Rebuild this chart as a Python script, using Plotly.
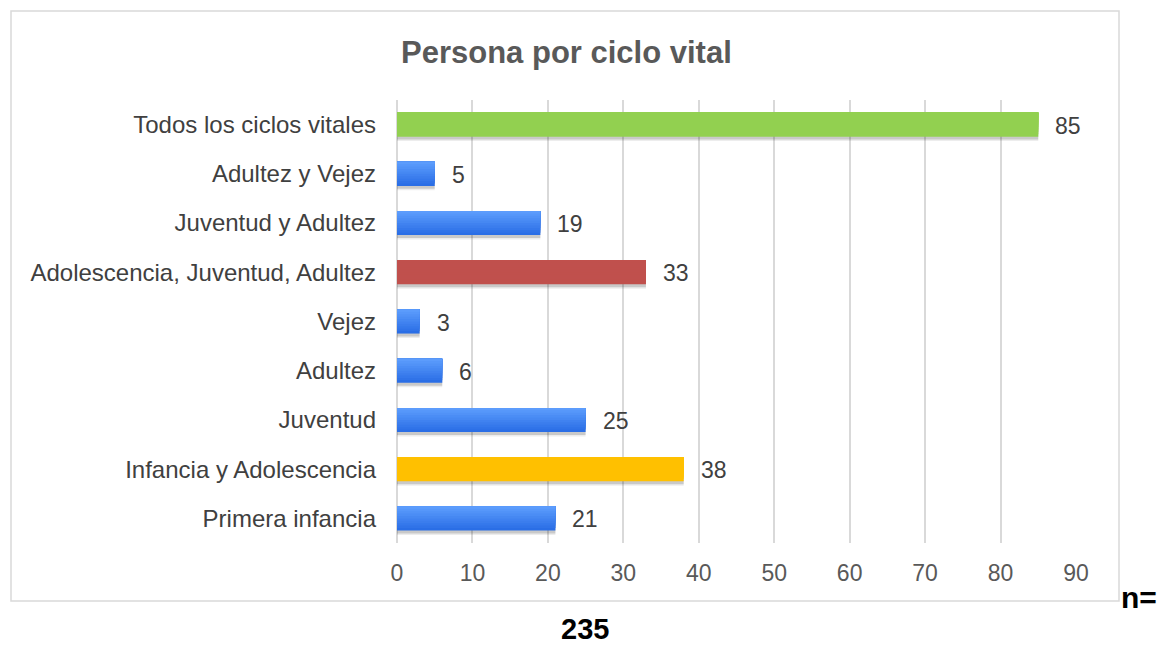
import plotly.graph_objects as go

categories = ["Primera infancia", "Infancia y Adolescencia", "Juventud", "Adultez", "Vejez",
              "Adolescencia, Juventud, Adultez", "Juventud y Adultez", "Adultez y Vejez",
              "Todos los ciclos vitales"]
values = [21, 38, 25, 6, 3, 33, 19, 5, 85]
bar_groups = ["blue", "yellow", "blue", "blue", "blue", "red", "blue", "blue", "green"]
x_ticks = [0, 10, 20, 30, 40, 50, 60, 70, 80, 90]
title_text = "Persona por ciclo vital"
n_label_1 = "n="
n_label_2 = "235"

# colour styles (bottom colour, top colour)
group_colors = {
    "blue": ((0x2A, 0x6E, 0xE6), (0x5C, 0x9C, 0xFC)),
    "yellow": ((0xFF, 0xC0, 0x00), (0xFF, 0xC0, 0x00)),
    "red": ((0xC0, 0x50, 0x4D), (0xC0, 0x50, 0x4D)),
    "green": ((0x92, 0xD0, 0x50), (0x92, 0xD0, 0x50)),
}

W, H = 1159, 645
plot_l, plot_r, plot_t, plot_b = 397, 1076, 100, 543
ml, mt = plot_l, plot_t
mr = W - plot_r
mb = H - plot_b
pw, ph = plot_r - plot_l, plot_b - plot_t

def px_x(p):
    return (p - plot_l) / pw

def px_y(p):
    return (plot_b - p) / ph

FONT = "Liberation Sans, Arial, sans-serif"
bar_w = 0.49
n_bands = 10
base_off = -bar_w / 2

fig = go.Figure()
# soft shadow
fig.add_trace(go.Bar(
    y=categories, x=values, orientation="h",
    marker=dict(color="rgba(0,0,0,0.15)", line=dict(width=0)),
    width=bar_w, offset=base_off - 0.06, hoverinfo="skip", showlegend=False,
))
fig.add_trace(go.Bar(
    y=categories, x=values, orientation="h",
    marker=dict(color="rgba(0,0,0,0.07)", line=dict(width=0)),
    width=bar_w, offset=base_off - 0.09, hoverinfo="skip", showlegend=False,
))
# bars drawn as overlapping layers to give the vertical gradient
band = bar_w / n_bands
for i in range(n_bands):
    t = i / (n_bands - 1)
    cols = []
    for g in bar_groups:
        lo, hi = group_colors[g]
        c = tuple(round(lo[k] + (hi[k] - lo[k]) * t) for k in range(3))
        cols.append("rgb(%d,%d,%d)" % c)
    fig.add_trace(go.Bar(
        y=categories, x=values, orientation="h",
        marker=dict(color=cols, line=dict(width=0)),
        width=bar_w - i * band, offset=base_off + i * band, showlegend=False,
        hoverinfo="x+y" if i == 0 else "skip",
    ))

annotations = []
for c, v in zip(categories, values):
    annotations.append(dict(x=v, y=c, xref="x", yref="y", text=str(v), showarrow=False,
                            xanchor="left", xshift=15, yshift=-1,
                            font=dict(family=FONT, size=23, color="#404040")))
annotations.append(dict(x=px_x(1119), y=px_y(597), xref="paper", yref="paper",
                        text="<b>" + n_label_1 + "</b>",
                        showarrow=False, xanchor="left", yanchor="middle",
                        font=dict(family=FONT, size=30, color="#000000")))
annotations.append(dict(x=px_x(585), y=px_y(629), xref="paper", yref="paper",
                        text="<b>" + n_label_2 + "</b>",
                        showarrow=False, xanchor="center", yanchor="middle",
                        font=dict(family=FONT, size=29, color="#000000")))
annotations.append(dict(x=px_x(566), y=px_y(52), xref="paper", yref="paper",
                        text="<b>" + title_text + "</b>",
                        showarrow=False, xanchor="center", yanchor="middle",
                        font=dict(family=FONT, size=31, color="#595959")))

fig.update_layout(
    width=W, height=H,
    margin=dict(l=ml, r=mr, t=mt, b=mb, pad=0),
    paper_bgcolor="white", plot_bgcolor="white",
    barmode="overlay",
    annotations=annotations,
    shapes=[dict(type="rect", xref="paper", yref="paper",
                 x0=px_x(11), x1=px_x(1119), y0=px_y(601), y1=px_y(11),
                 line=dict(color="#D9D9D9", width=1.5), fillcolor="rgba(0,0,0,0)", layer="below")],
    xaxis=dict(range=[0, 90], tickvals=x_ticks, showgrid=True, gridcolor="#D9D9D9", gridwidth=2,
               zeroline=True, zerolinecolor="#D9D9D9", zerolinewidth=2, showline=False,
               ticks="", ticklabelstandoff=14,
               tickfont=dict(family=FONT, size=23, color="#595959")),
    yaxis=dict(categoryorder="array", categoryarray=categories, range=[-0.5, 8.5],
               showgrid=False, zeroline=False, showline=False, ticks="", ticklabelstandoff=20,
               tickfont=dict(family=FONT, size=24, color="#404040")),
)

fig.write_html(
    "out.html",
    config={"displayModeBar": False},
    post_script="document.body.style.margin='0';document.body.style.overflow='hidden';",
)
